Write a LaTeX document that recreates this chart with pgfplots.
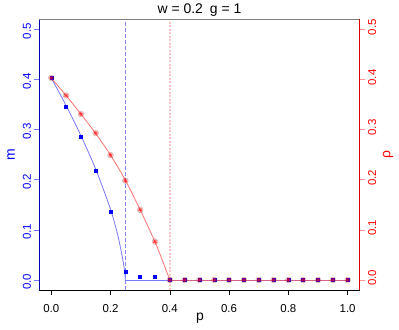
\documentclass[border=0pt]{standalone}
\usepackage{pgfplots}
\pgfplotsset{compat=1.18}
\usepackage{fontspec}
\setmainfont{Liberation Sans}
\definecolor{rblue}{RGB}{0,0,255}
\definecolor{lblue}{RGB}{120,120,255}
\definecolor{dblue}{RGB}{130,130,255}
\definecolor{rred}{RGB}{255,0,0}
\definecolor{lred}{RGB}{255,90,90}
\definecolor{pinkd}{RGB}{255,150,150}
\definecolor{pinkl}{RGB}{255,195,195}
\begin{document}
\begin{tikzpicture}
\path[use as bounding box] (0,0) rectangle (399bp,330bp);
\begin{axis}[
  at={(39.4bp,40bp)}, anchor=south west,
  scale only axis, width=320.1bp, height=270.7bp,
  xmin=-0.04, xmax=1.04, ymin=-0.02, ymax=0.52,
  axis x line*=bottom, axis y line*=left,
  x axis line style={black, line width=0.7bp},
  y axis line style={rblue!70!black, line width=0.7bp},
  xtick={0,0.2,0.4,0.6,0.8,1.0},
  xticklabels={0.0,0.2,0.4,0.6,0.8,1.0},
  ytick={0,0.1,0.2,0.3,0.4,0.5},
  yticklabels={0.0,0.1,0.2,0.3,0.4,0.5},
  tick align=outside, major tick length=5bp,
  xtick style={black, line width=0.6bp},
  ytick style={lblue, line width=0.6bp},
  yticklabel style={rotate=90, anchor=south, text=rblue, font=\fontsize{11.5}{12}\selectfont, xshift=-2bp},
  xticklabel style={font=\fontsize{11.5}{12}\selectfont, yshift=-6bp},
  /pgf/number format/assume math mode=true,
  clip=false,
]
% dashed thresholds
\addplot[color=dblue, solid, line width=1.1bp, dash pattern=on 3.5bp off 2.5bp] coordinates {(0.25,-0.02) (0.25,0.52)};
\addplot[color=pinkl, solid, line width=1.6bp, dash pattern=on 2.2bp off 1.3bp] coordinates {(0.4,-0.02) (0.4,0.52)};
% theory m
\addplot[lblue, line width=0.8bp, smooth] coordinates {
(0,0.403) (0.05,0.348) (0.1,0.288) (0.15,0.221) (0.2,0.141) (0.225,0.088) (0.24,0.045) (0.247,0.02) (0.25,0.0)};
\addplot[lblue, line width=0.8bp] coordinates {(0.25,0) (1,0)};
% theory rho
\addplot[lred, line width=0.8bp, opacity=0.85, smooth] coordinates {
(0,0.403) (0.05,0.368) (0.1,0.331) (0.15,0.292) (0.2,0.249) (0.25,0.199) (0.3,0.140) (0.35,0.076) (0.375,0.039) (0.4,0.0)};
\addplot[lred, line width=0.8bp, opacity=0.7] coordinates {(0.4,0) (1,0)};
% m data
\addplot[only marks, mark=square*, mark size=1.5bp, rblue, mark options={draw=rblue, fill=rblue}] coordinates {
(0,0.403) (0.05,0.346) (0.1,0.286) (0.15,0.218) (0.2,0.136) (0.25,0.017) (0.3,0.0074) (0.35,0.006)
(0.4,0) (0.45,0) (0.5,0) (0.55,0) (0.6,0) (0.65,0) (0.7,0) (0.75,0) (0.8,0) (0.85,0) (0.9,0) (0.95,0) (1,0)};
% rho data halo
\addplot[only marks, mark=*, mark size=3bp, mark options={draw=none, fill=rred, opacity=0.2}] coordinates {
(0,0.403) (0.05,0.368) (0.1,0.331) (0.15,0.293) (0.2,0.249) (0.25,0.198) (0.3,0.140) (0.35,0.0765)
(0.4,0) (0.45,0) (0.5,0) (0.55,0) (0.6,0) (0.65,0) (0.7,0) (0.75,0) (0.8,0) (0.85,0) (0.9,0) (0.95,0) (1,0)};
\addplot[only marks, mark=asterisk, mark size=2bp, mark options={draw=rred, line width=0.8bp, opacity=0.6}] coordinates {
(0,0.403) (0.05,0.368) (0.1,0.331) (0.15,0.293) (0.2,0.249) (0.25,0.198) (0.3,0.140) (0.35,0.0765)
(0.4,0) (0.45,0) (0.5,0) (0.55,0) (0.6,0) (0.65,0) (0.7,0) (0.75,0) (0.8,0) (0.85,0) (0.9,0) (0.95,0) (1,0)};
\draw[gray, line width=0.7bp] (rel axis cs:0,1) -- (rel axis cs:1,1);
\node[font=\fontsize{14}{16}\selectfont, anchor=base] at (rel axis cs:0.5,1) [yshift=6bp] {w = 0.2\hspace{7bp}g = 1};
\node[font=\fontsize{14}{16}\selectfont] at (rel axis cs:0.5017,-0.105) {p};
\node[font=\fontsize{14}{16}\selectfont, text=rblue, rotate=90] at (rel axis cs:-0.0887,0.5) {m};
\node[font=\fontsize{14}{16}\selectfont, text=rred, rotate=90] at (rel axis cs:1.089,0.5) {ρ};
\end{axis}
\begin{axis}[
  at={(39.4bp,40bp)}, anchor=south west,
  scale only axis, width=320.1bp, height=270.7bp,
  xmin=-0.04, xmax=1.04, ymin=-0.02, ymax=0.52,
  axis x line=none, axis y line*=right,
  y axis line style={rred!85!black, line width=0.7bp},
  ytick={0,0.1,0.2,0.3,0.4,0.5},
  yticklabels={0.0,0.1,0.2,0.3,0.4,0.5},
  tick align=outside, major tick length=5bp,
  ytick style={pinkd, line width=0.6bp},
  yticklabel style={rotate=90, anchor=north, text=rred, font=\fontsize{11.5}{12}\selectfont, xshift=2bp},
  /pgf/number format/assume math mode=true,
  clip=false,
]
\end{axis}
\end{tikzpicture}
\end{document}
